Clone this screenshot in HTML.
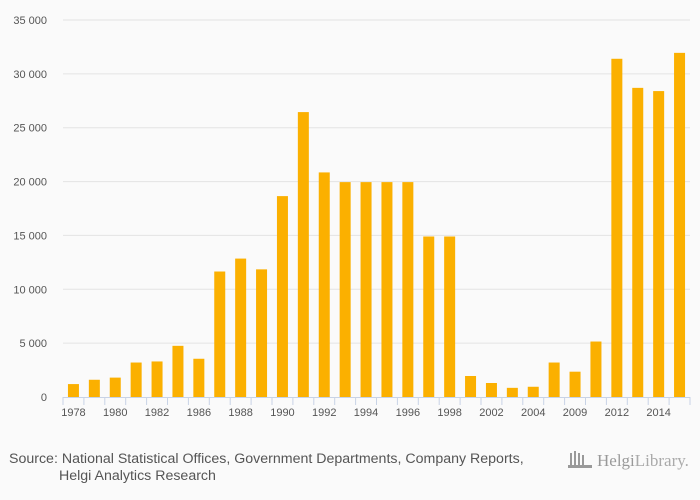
<!DOCTYPE html>
<html><head><meta charset="utf-8"><style>
body{margin:0;background:#fafafa;}
svg{display:block;font-family:"Liberation Sans",sans-serif;}
</style></head><body>
<svg id="chart" width="700" height="500">
<rect width="700" height="500" fill="#fafafa"/>
<g id="grid"></g><g id="bars"></g><g id="xaxis"></g>
<text x="9" y="463" font-size="14.2" fill="#555">Source: National Statistical Offices, Government Departments, Company Reports,</text>
<text x="59" y="480" font-size="14.2" fill="#555">Helgi Analytics Research</text>
<g>
<rect x="570" y="453" width="2" height="12" fill="#999"/><rect x="574" y="451" width="2" height="14" fill="#999"/><rect x="578" y="453" width="2" height="12" fill="#999"/><rect x="582" y="455" width="2" height="10" fill="#999"/><rect x="568" y="465" width="24" height="3" fill="#999"/>
<text x="597" y="466" font-size="17" fill="#999" font-family="Liberation Serif,serif">Helgi<tspan font-weight="normal" fill="#aaa">Library.</tspan></text>
</g>
</svg>
<script>
const categories=["1978","1979","1980","1981","1982","1984","1986","1987","1988","1989","1990","1991","1992","1993","1994","1995","1996","1997","1998","2000","2002","2003","2004","2008","2009","2010","2012","2013","2014","2015"];
const values=[1200,1600,1800,3200,3300,4750,3550,11650,12850,11850,18650,26450,20850,19950,19950,19950,19950,14900,14900,1950,1300,850,950,3200,2350,5150,31400,28700,28400,31950];
const yTicks=[0,5000,10000,15000,20000,25000,30000,35000];
const shownLabels=["1978","1980","1982","1986","1988","1990","1992","1994","1996","1998","2002","2004","2009","2012","2014"];
const NS="http://www.w3.org/2000/svg";
const X0=63,X1=690,Y0=397,Y1=20,YMAX=35000;
const step=(X1-X0)/categories.length;
const y=v=>Y0-(v/YMAX)*(Y0-Y1);
const x=i=>X0+step*i;
function mk(t,a,p){const e=document.createElementNS(NS,t);for(const k in a)e.setAttribute(k,a[k]);p.appendChild(e);return e;}
const grid=document.getElementById('grid'),bars=document.getElementById('bars'),xa=document.getElementById('xaxis');
yTicks.forEach(v=>{
 if(v>0){const l=mk('line',{x1:X0,x2:X1,y1:y(v),y2:y(v),stroke:'#e3e3e3','stroke-width':1},grid);
 
 }
 const t=mk('text',{x:47,y:y(v)+4,'font-size':11,fill:'#555','text-anchor':'end'},grid);
 t.textContent=v===0?'0':String(v).replace(/\B(?=(\d{3})+(?!\d))/g,' ');
 
 
});
values.forEach((v,i)=>{
 const r=mk('rect',{x:x(i)+step/2-5.5,y:y(v),width:11,height:Y0-y(v),fill:'#fbb000'},bars);
 
 
});
const ax=mk('line',{x1:X0,x2:X1,y1:Y0+0.5,y2:Y0+0.5,stroke:'#c8d3e6','stroke-width':1},xa);


for(let i=0;i<=categories.length;i++){
 const tk=mk('line',{x1:x(i),x2:x(i),y1:Y0,y2:Y0+8,stroke:'#c8d3e6','stroke-width':1},xa);
 
 
}
categories.forEach((c,i)=>{
 if(shownLabels.indexOf(c)<0)return;
 const t=mk('text',{x:x(i)+step/2,y:416,'font-size':11,fill:'#555','text-anchor':'middle'},xa);
 t.textContent=c;
 
 
});
</script>
</body></html>
